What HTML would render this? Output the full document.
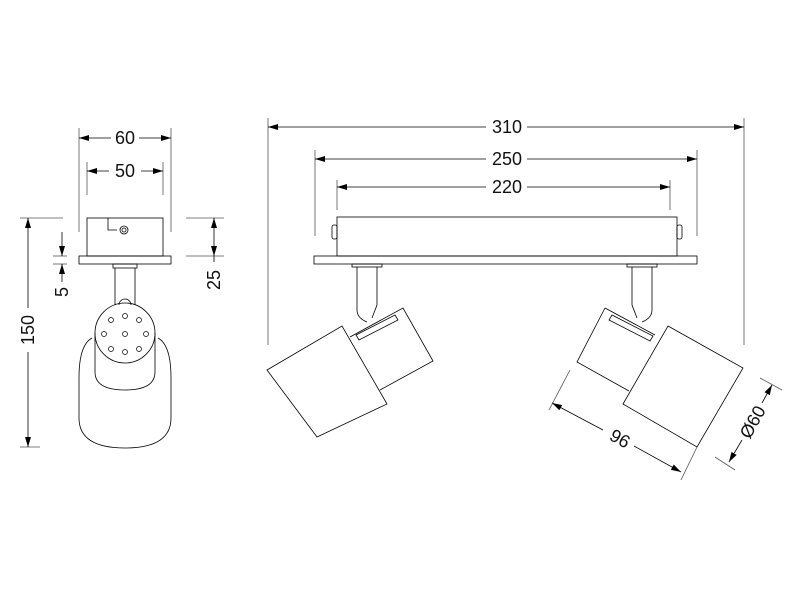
<!DOCTYPE html>
<html><head><style>body{margin:0;background:#fff}svg{display:block}</style></head><body>
<svg width="800" height="600" viewBox="0 0 800 600" xmlns="http://www.w3.org/2000/svg" font-family="Liberation Sans, sans-serif">
<defs>
<marker id="a" viewBox="0 0 10 6" refX="10" refY="3" markerWidth="10" markerHeight="6" orient="auto-start-reverse" markerUnits="userSpaceOnUse"><path d="M0,0L10,3L0,6z" fill="#000"/></marker>
</defs>
<g stroke="#555" stroke-width="0.8" fill="none">
<line x1="79" y1="128" x2="79" y2="232"/><line x1="171" y1="128" x2="171" y2="232"/>
<line x1="87" y1="162" x2="87" y2="195"/><line x1="163" y1="162" x2="163" y2="195"/>
<line x1="20" y1="218" x2="63" y2="218"/><line x1="20" y1="447" x2="40" y2="447"/>
<line x1="53" y1="256" x2="67" y2="256"/><line x1="53" y1="264" x2="67" y2="264"/>
<line x1="186" y1="218" x2="224" y2="218"/><line x1="186" y1="256" x2="224" y2="256"/>
<line x1="268" y1="118" x2="268" y2="345"/><line x1="744" y1="118" x2="744" y2="345"/>
<line x1="315" y1="150" x2="315" y2="236"/><line x1="697" y1="150" x2="697" y2="236"/>
<line x1="337" y1="180" x2="337" y2="210"/><line x1="670" y1="180" x2="670" y2="210"/>
<line x1="570" y1="370" x2="549" y2="410"/><line x1="697" y1="447" x2="681" y2="480"/>
<line x1="760" y1="378" x2="782" y2="390"/><line x1="715" y1="457" x2="735" y2="470"/>
</g>
<g stroke="#000" stroke-width="0.8" fill="none">
<line x1="79" y1="138" x2="111" y2="138" marker-start="url(#a)"/><line x1="139" y1="138" x2="171" y2="138" marker-end="url(#a)"/>
<line x1="87" y1="171" x2="109" y2="171" marker-start="url(#a)"/><line x1="141" y1="171" x2="163" y2="171" marker-end="url(#a)"/>
<line x1="28" y1="218" x2="28" y2="308" marker-start="url(#a)"/><line x1="28" y1="352" x2="28" y2="447" marker-end="url(#a)"/>
<line x1="62" y1="232" x2="62" y2="256" marker-end="url(#a)"/><line x1="62" y1="282" x2="62" y2="264" marker-end="url(#a)"/>
<line x1="214" y1="218" x2="214" y2="256" marker-start="url(#a)" marker-end="url(#a)"/><line x1="214" y1="256" x2="214" y2="262"/>
<line x1="268" y1="127" x2="486" y2="127" marker-start="url(#a)"/><line x1="527" y1="127" x2="744" y2="127" marker-end="url(#a)"/>
<line x1="315" y1="159" x2="486" y2="159" marker-start="url(#a)"/><line x1="527" y1="159" x2="697" y2="159" marker-end="url(#a)"/>
<line x1="337" y1="187" x2="486" y2="187" marker-start="url(#a)"/><line x1="527" y1="187" x2="670" y2="187" marker-end="url(#a)"/>
<line x1="552" y1="403" x2="603" y2="430" marker-start="url(#a)"/><line x1="634" y1="446" x2="681" y2="472" marker-end="url(#a)"/>
<line x1="772" y1="385" x2="762" y2="403" marker-start="url(#a)"/><line x1="742" y1="440" x2="729" y2="462" marker-end="url(#a)"/>
<rect x="87" y="218" width="76" height="38"/>
<rect x="79" y="256" width="92" height="8"/>
<path d="M108 218V230H117"/><circle cx="124" cy="230" r="4"/><circle cx="124" cy="230" r="2"/>
<rect x="113" y="264" width="24" height="4"/>
<path d="M115 268V305M135 268V305"/>
<path d="M119 305a6 6 0 0 1 12 0"/>
<path d="M79 378Q79 345 92 338M158 338Q171 345 171 378V418Q171 448 125 448Q79 448 79 418V378"/>
<circle cx="125" cy="333" r="30"/>
<path d="M95 333V372Q95 390 125 390Q155 390 155 372V333"/>
<g stroke-width="0.7">
<circle cx="125" cy="316" r="2.5"/><circle cx="139" cy="320" r="2.5"/><circle cx="111" cy="320" r="2.5"/>
<circle cx="104" cy="334" r="2.5"/><circle cx="125" cy="334" r="2.5"/><circle cx="146" cy="334" r="2.5"/>
<circle cx="111" cy="349" r="2.5"/><circle cx="125" cy="352" r="2.5"/><circle cx="139" cy="349" r="2.5"/>
</g>
<rect x="337" y="217" width="340" height="39"/>
<rect x="314" y="256" width="383" height="8"/>
<rect x="332" y="225" width="5" height="14" rx="2"/><rect x="677" y="225" width="5" height="14" rx="2"/>
<rect x="352" y="264" width="30" height="3"/><rect x="627" y="264" width="30" height="3"/>
<path d="M357 267V310Q357 318 367 322M377 267V305L372 318"/>
<path d="M632 267V305L637 318M652 267V310Q652 318 642 322"/>
<path d="M356 335L395 315L398 320L359 340Z"/>
<path d="M612 315L653 336L650 341L609 320Z"/>
<path d="M350 337L403 308L433 361L380 390"/>
<path d="M267 370L342 326L387 404L317 437Z"/>
<path d="M605 308L655 335M629 391L577 362L605 308"/>
<path d="M668 326L743 368L697 447L623 404Z"/>
</g>
<g font-size="18" fill="#111" text-anchor="middle">
<text x="125" y="144">60</text><text x="125" y="177">50</text>
<text x="507" y="133">310</text><text x="507" y="165">250</text><text x="507" y="193">220</text>
<text transform="translate(34,330) rotate(-90)">150</text>
<text transform="translate(68,292) rotate(-90)">5</text>
<text transform="translate(220,280) rotate(-90)">25</text>
<text transform="translate(617,444) rotate(29)">96</text>
<text transform="translate(758,425) rotate(-61)">Ø60</text>
</g>
</svg>
</body></html>
